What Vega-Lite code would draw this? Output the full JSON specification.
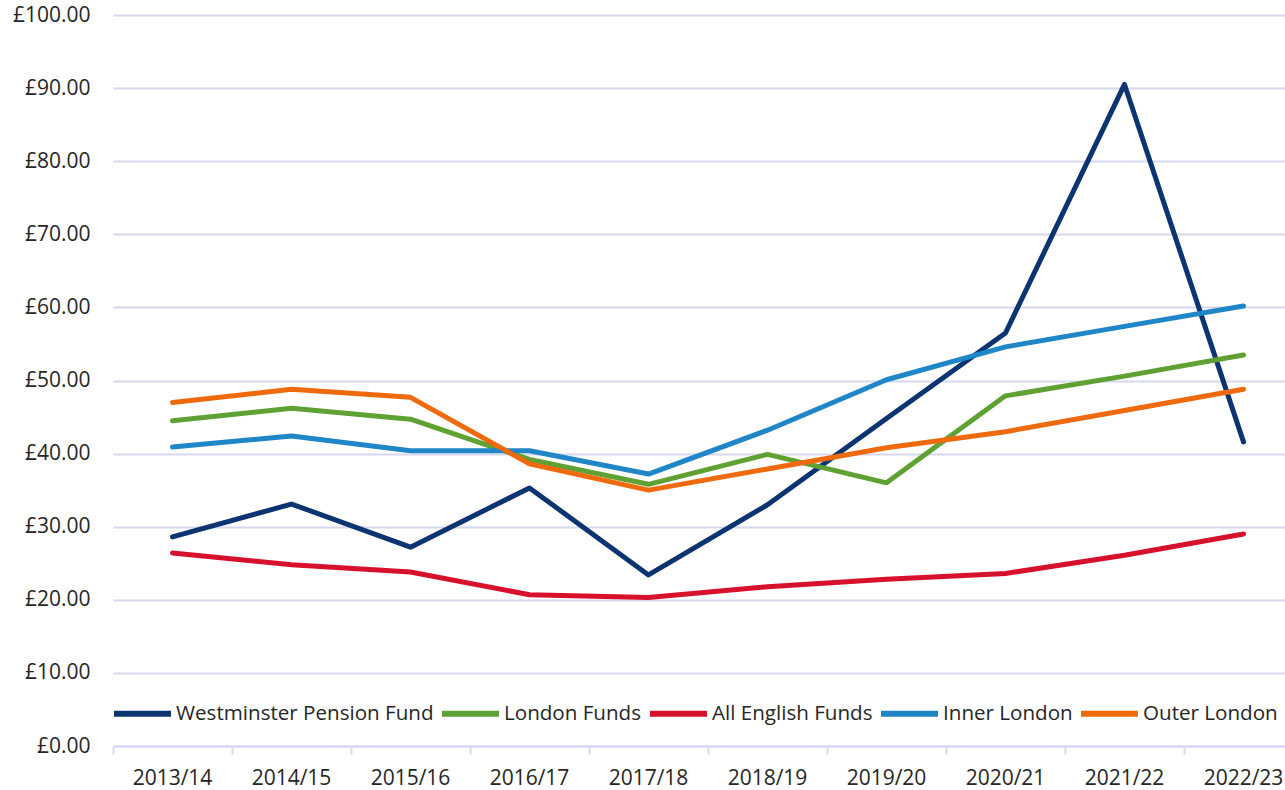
{
  "$schema": "https://vega.github.io/schema/vega-lite/v6.json",
  "autosize": "none",
  "padding": {"left": 113, "top": 15, "right": 0, "bottom": 44},
  "width": 1190,
  "height": 731,
  "background": "white",
  "config": {
    "view": {"stroke": null},
    "font": "Open Sans"
  },
  "data": {
    "values": [
      {"year": "2013/14", "series": "Westminster Pension Fund", "value": 28.6},
      {"year": "2014/15", "series": "Westminster Pension Fund", "value": 33.1},
      {"year": "2015/16", "series": "Westminster Pension Fund", "value": 27.2},
      {"year": "2016/17", "series": "Westminster Pension Fund", "value": 35.3},
      {"year": "2017/18", "series": "Westminster Pension Fund", "value": 23.4},
      {"year": "2018/19", "series": "Westminster Pension Fund", "value": 33.0},
      {"year": "2019/20", "series": "Westminster Pension Fund", "value": 44.8},
      {"year": "2020/21", "series": "Westminster Pension Fund", "value": 56.5},
      {"year": "2021/22", "series": "Westminster Pension Fund", "value": 90.5},
      {"year": "2022/23", "series": "Westminster Pension Fund", "value": 41.6},
      {"year": "2013/14", "series": "London Funds", "value": 44.5},
      {"year": "2014/15", "series": "London Funds", "value": 46.2},
      {"year": "2015/16", "series": "London Funds", "value": 44.7},
      {"year": "2016/17", "series": "London Funds", "value": 39.2},
      {"year": "2017/18", "series": "London Funds", "value": 35.8},
      {"year": "2018/19", "series": "London Funds", "value": 39.9},
      {"year": "2019/20", "series": "London Funds", "value": 36.0},
      {"year": "2020/21", "series": "London Funds", "value": 47.9},
      {"year": "2021/22", "series": "London Funds", "value": 50.6},
      {"year": "2022/23", "series": "London Funds", "value": 53.5},
      {"year": "2013/14", "series": "All English Funds", "value": 26.4},
      {"year": "2014/15", "series": "All English Funds", "value": 24.8},
      {"year": "2015/16", "series": "All English Funds", "value": 23.8},
      {"year": "2016/17", "series": "All English Funds", "value": 20.7},
      {"year": "2017/18", "series": "All English Funds", "value": 20.3},
      {"year": "2018/19", "series": "All English Funds", "value": 21.8},
      {"year": "2019/20", "series": "All English Funds", "value": 22.8},
      {"year": "2020/21", "series": "All English Funds", "value": 23.6},
      {"year": "2021/22", "series": "All English Funds", "value": 26.1},
      {"year": "2022/23", "series": "All English Funds", "value": 29.0},
      {"year": "2013/14", "series": "Inner London", "value": 40.9},
      {"year": "2014/15", "series": "Inner London", "value": 42.4},
      {"year": "2015/16", "series": "Inner London", "value": 40.4},
      {"year": "2016/17", "series": "Inner London", "value": 40.4},
      {"year": "2017/18", "series": "Inner London", "value": 37.2},
      {"year": "2018/19", "series": "Inner London", "value": 43.2},
      {"year": "2019/20", "series": "Inner London", "value": 50.1},
      {"year": "2020/21", "series": "Inner London", "value": 54.6},
      {"year": "2021/22", "series": "Inner London", "value": 57.4},
      {"year": "2022/23", "series": "Inner London", "value": 60.2},
      {"year": "2013/14", "series": "Outer London", "value": 47.0},
      {"year": "2014/15", "series": "Outer London", "value": 48.8},
      {"year": "2015/16", "series": "Outer London", "value": 47.7},
      {"year": "2016/17", "series": "Outer London", "value": 38.6},
      {"year": "2017/18", "series": "Outer London", "value": 35.0},
      {"year": "2018/19", "series": "Outer London", "value": 37.9},
      {"year": "2019/20", "series": "Outer London", "value": 40.8},
      {"year": "2020/21", "series": "Outer London", "value": 43.0},
      {"year": "2021/22", "series": "Outer London", "value": 45.9},
      {"year": "2022/23", "series": "Outer London", "value": 48.8}
    ]
  },
  "mark": {"type": "line", "strokeWidth": 5, "strokeCap": "round", "strokeJoin": "round"},
  "encoding": {
    "x": {
      "field": "year", "type": "nominal", "sort": null,
      "scale": {"type": "band", "paddingInner": 0, "paddingOuter": 0},
      "axis": {
        "title": null, "labelAngle": 0, "bandPosition": 0,
        "labelFont": "Open Sans", "labelFontSize": 21, "labelColor": "#262626", "labelFontWeight": "normal",
        "domainColor": "#D6D8F0", "domainWidth": 2,
        "tickColor": "#D6D8F0", "tickWidth": 2, "tickSize": 8,
        "labelPadding": 13, "grid": false
      }
    },
    "y": {
      "field": "value", "type": "quantitative",
      "scale": {"domain": [0, 100], "nice": false},
      "axis": {
        "title": null, "values": [0, 10, 20, 30, 40, 50, 60, 70, 80, 90, 100],
        "labelExpr": "'£' + format(datum.value, '.2f')",
        "labelFont": "Open Sans", "labelFontSize": 21, "labelColor": "#262626", "labelFontWeight": "normal",
        "domain": false, "ticks": false, "labelPadding": 23,
        "gridColor": "#D6D8F0", "gridWidth": 2
      }
    },
    "color": {
      "field": "series", "type": "nominal",
      "scale": {
        "domain": ["Westminster Pension Fund", "London Funds", "All English Funds", "Inner London", "Outer London"],
        "range": ["#0B3470", "#5FA132", "#D7102B", "#1F86C8", "#EE6A0C"]
      },
      "legend": {
        "title": null, "orient": "none", "direction": "horizontal",
        "legendX": -2, "legendY": 667,
        "labelFont": "Open Sans", "labelFontSize": 20.6, "labelColor": "#262626", "labelLimit": 0,
        "symbolType": "stroke", "symbolSize": 3249, "symbolStrokeWidth": 6,
        "labelOffset": 2, "columnPadding": -4, "padding": 0
      }
    }
  }
}
